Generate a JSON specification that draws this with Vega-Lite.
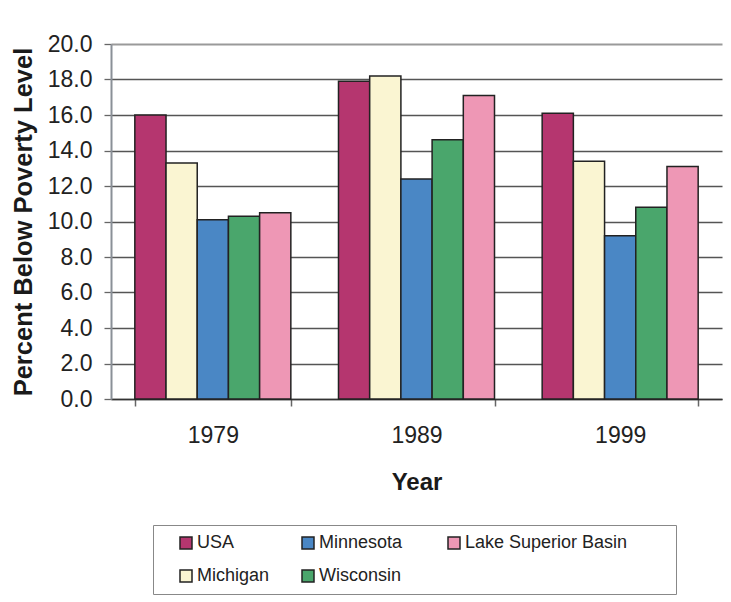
{
  "$schema": "https://vega.github.io/schema/vega-lite/v6.json",
  "width": 611,
  "height": 355,
  "autosize": {"type": "none"},
  "padding": {"left": 111, "top": 44, "right": 9, "bottom": 203},
  "background": "white",
  "config": {
    "font": "Liberation Sans",
    "view": {"stroke": null}
  },
  "data": {
    "values": [
      {"Year": "1979", "Region": "USA", "Percent": 16.0},
      {"Year": "1979", "Region": "Michigan", "Percent": 13.3},
      {"Year": "1979", "Region": "Minnesota", "Percent": 10.1},
      {"Year": "1979", "Region": "Wisconsin", "Percent": 10.3},
      {"Year": "1979", "Region": "Lake Superior Basin", "Percent": 10.5},
      {"Year": "1989", "Region": "USA", "Percent": 17.9},
      {"Year": "1989", "Region": "Michigan", "Percent": 18.2},
      {"Year": "1989", "Region": "Minnesota", "Percent": 12.4},
      {"Year": "1989", "Region": "Wisconsin", "Percent": 14.6},
      {"Year": "1989", "Region": "Lake Superior Basin", "Percent": 17.1},
      {"Year": "1999", "Region": "USA", "Percent": 16.1},
      {"Year": "1999", "Region": "Michigan", "Percent": 13.4},
      {"Year": "1999", "Region": "Minnesota", "Percent": 9.2},
      {"Year": "1999", "Region": "Wisconsin", "Percent": 10.8},
      {"Year": "1999", "Region": "Lake Superior Basin", "Percent": 13.1}
    ]
  },
  "mark": {"type": "bar", "stroke": "#222222", "strokeWidth": 1.5},
  "encoding": {
    "x": {
      "field": "Year",
      "type": "nominal",
      "scale": {"paddingInner": 0.234, "paddingOuter": 0.117},
      "axis": {
        "title": "Year",
        "titleFontSize": 24,
        "titleFontWeight": "bold",
        "titleColor": "#1a1a1a",
        "titlePadding": 23,
        "labelAngle": 0,
        "labelFontSize": 23,
        "labelFontWeight": "normal",
        "labelColor": "#222222",
        "labelPadding": 18,
        "tickBand": "extent",
        "tickSize": 7,
        "tickColor": "#666666",
        "tickWidth": 1.5,
        "domainColor": "#333333",
        "domainWidth": 1.5
      }
    },
    "xOffset": {
      "field": "Region",
      "type": "nominal",
      "scale": {"domain": ["USA", "Michigan", "Minnesota", "Wisconsin", "Lake Superior Basin"], "paddingInner": 0, "paddingOuter": 0}
    },
    "y": {
      "field": "Percent",
      "type": "quantitative",
      "scale": {"domain": [0, 20], "nice": false},
      "axis": {
        "title": "Percent Below Poverty Level",
        "titleFontSize": 25.5,
        "titleFontWeight": "bold",
        "titleColor": "#1a1a1a",
        "titlePadding": 11,
        "values": [0, 2, 4, 6, 8, 10, 12, 14, 16, 18, 20],
        "format": ".1f",
        "labelFontSize": 23,
        "labelColor": "#222222",
        "labelPadding": 12,
        "tickSize": 7,
        "tickColor": "#666666",
        "tickWidth": 1.3,
        "domainColor": "#8a9097",
        "domainWidth": 2,
        "grid": true,
        "gridColor": {"condition": {"test": "datum.value == 20", "value": "#9a9a9a"}, "value": "#555555"},
        "gridWidth": {"condition": {"test": "datum.value == 20", "value": 2}, "value": 1.3}
      }
    },
    "color": {
      "field": "Region",
      "type": "nominal",
      "scale": {
        "domain": ["USA", "Minnesota", "Lake Superior Basin", "Michigan", "Wisconsin"],
        "range": ["#b5366f", "#4a87c5", "#ee97b5", "#faf5d2", "#4aa66c"]
      },
      "legend": {
        "orient": "none",
        "legendX": 42,
        "legendY": 481,
        "direction": "horizontal",
        "columns": 3,
        "title": null,
        "symbolType": "square",
        "symbolSize": 144,
        "symbolStrokeColor": "#222222",
        "symbolStrokeWidth": 1.5,
        "symbolOpacity": 1,
        "symbolOffset": 15,
        "labelFontSize": 18,
        "labelColor": "#222222",
        "labelOffset": 2,
        "labelLimit": 400,
        "labelExpr": "datum.label == 'Lake Superior Basin' ? 'Lake Superior Basin\u2800\u2800\u2800' : datum.label == 'Minnesota' ? 'Minnesota\u2800' : datum.label",
        "columnPadding": 14,
        "rowPadding": 15,
        "padding": 9,
        "strokeColor": "#888888",
        "fillColor": "white"
      }
    }
  }
}
